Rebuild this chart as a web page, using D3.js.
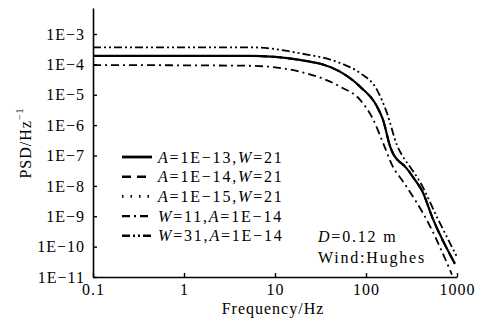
<!DOCTYPE html>
<html><head><meta charset="utf-8">
<script src="https://cdn.jsdelivr.net/npm/d3@7"></script>
<style>
html,body{margin:0;padding:0;background:#fff;}
svg text{font-family:"Times New Roman",Times,"Liberation Serif","DejaVu Serif",serif;fill:#000;}
</style></head>
<body><svg id="c" width="482" height="325"></svg>
<script>
// ---- data ----
const xTicks = [0.1, 1, 10, 100, 1000];
const xTickLabels = ["0.1", "1", "10", "100", "1000"];
const yTicks = [1e-3, 1e-4, 1e-5, 1e-6, 1e-7, 1e-8, 1e-9, 1e-10, 1e-11];
const yTickLabels = ["1E\u22123", "1E\u22124", "1E\u22125", "1E\u22126", "1E\u22127", "1E\u22128", "1E\u22129", "1E\u221210", "1E\u221211"];

// A=1E-13, W=21 (solid) — A=1E-14 and A=1E-15 coincide with it
const freqA = [0.1, 1, 5.3, 18.8, 51.8, 86, 132, 154, 184, 200, 219, 269, 345, 412, 545, 950];
const psdA13 = [1.9e-4, 1.9e-4, 1.9e-4, 1.4e-4, 5.75e-5, 1.85e-5, 4.1e-6, 1.48e-6, 2.0e-7, 1.1e-7, 7.5e-8, 4.3e-8, 1.58e-8, 7.0e-9, 8.0e-10, 2.7e-11];
const psdA14 = [1.9e-4, 1.9e-4, 1.9e-4, 1.4e-4, 5.75e-5, 1.85e-5, 4.1e-6, 1.48e-6, 2.0e-7, 1.1e-7, 7.5e-8, 4.3e-8, 1.58e-8, 7.0e-9, 8.0e-10, 2.7e-11];
const psdA15 = [1.9e-4, 1.9e-4, 1.9e-4, 1.4e-4, 5.75e-5, 1.85e-5, 4.1e-6, 1.48e-6, 2.0e-7, 1.1e-7, 7.5e-8, 4.3e-8, 1.58e-8, 7.0e-9, 8.0e-10, 2.7e-11];
// W=11, A=1E-14
const freqW11 = [0.1, 1, 5.3, 18.8, 51.8, 86, 119, 154, 198, 255, 500, 880];
const psdW11 = [9.5e-5, 9.3e-5, 9.0e-5, 5.75e-5, 1.85e-5, 6.8e-6, 1.6e-6, 2.6e-7, 4.2e-8, 1.4e-8, 5.0e-10, 1.2e-11];
// W=31, A=1E-14
const freqW31 = [0.1, 1, 5.3, 18.8, 51.8, 86, 132, 170, 219, 250, 290, 392, 618, 1000];
const psdW31 = [3.65e-4, 3.65e-4, 3.65e-4, 2.32e-4, 1.11e-4, 5.2e-5, 1.45e-5, 2.5e-6, 2.2e-7, 1.0e-7, 5.2e-8, 1.35e-8, 8.0e-10, 4.6e-11];

const seriesNames = ["A=1E\u221213,W=21", "A=1E\u221214,W=21", "A=1E\u221215,W=21", "W=11,A=1E\u221214", "W=31,A=1E\u221214"];

// ---- layout ----
const svg = d3.select("#c");
const L = 93, R = 457, B = 277, T = 8;
const x = d3.scaleLog().domain([0.1, 1000]).range([L, R]);
const y = d3.scaleLog().domain([1e-11, Math.pow(10, -2.144)]).range([B, T]);

const styles = [
  {dash: null, w: 2.2},
  {dash: "9,6", w: 2},
  {dash: "1.5,7", w: 2},
  {dash: "8,4,2,4", w: 1.8},
  {dash: "8,3,2,3,2,3", w: 1.8}
];
const series = [
  {f: freqA, v: psdA14, s: styles[1]},
  {f: freqA, v: psdA15, s: styles[2]},
  {f: freqW11, v: psdW11, s: styles[3]},
  {f: freqW31, v: psdW31, s: styles[4]},
  {f: freqA, v: psdA13, s: styles[0]}
];

const line = d3.line().x(d => x(d[0])).y(d => y(d[1])).curve(d3.curveMonotoneX);
series.forEach(sr => {
  const pts = sr.f.map((f, i) => [f, sr.v[i]]);
  svg.append("path").attr("d", line(pts)).attr("fill", "none")
    .attr("stroke", "#000").attr("stroke-width", sr.s.w)
    .attr("stroke-dasharray", sr.s.dash);
});

// axes
const fs = 16, ls = 1.0, lsLeg = 1.8;
const xAxis = d3.axisBottom(x).tickValues(xTicks).tickFormat((d, i) => xTickLabels[i]).tickSizeInner(-4).tickSizeOuter(0).tickPadding(7);
const gx = svg.append("g").attr("transform", `translate(0,${B})`).call(xAxis);
const yAxis = d3.axisLeft(y).tickValues(yTicks).tickFormat((d, i) => yTickLabels[i]).tickSizeInner(-4).tickSizeOuter(0).tickPadding(8);
const gy = svg.append("g").attr("transform", `translate(${L},0)`).call(yAxis);
[gx, gy].forEach(g => {
  g.attr("font-family", null);
  g.select(".domain").attr("stroke", "#000").attr("stroke-width", 1.6);
  g.selectAll(".tick line").attr("stroke", "#000").attr("stroke-width", 1.4);
  g.selectAll(".tick text").attr("font-size", fs).attr("letter-spacing", ls).attr("fill", "#000");
});

// axis titles
svg.append("text").attr("x", (L + R) / 2 - 2).attr("y", 314).attr("text-anchor", "middle")
  .attr("font-size", fs).attr("letter-spacing", ls).text("Frequency/Hz");
const yl = svg.append("text").attr("transform", "translate(31,143) rotate(-90)").attr("text-anchor", "middle")
  .attr("font-size", fs).attr("letter-spacing", ls);
yl.append("tspan").text("PSD/Hz");
yl.append("tspan").attr("font-size", 10).attr("dy", -8).text("\u22121");

// legend
[0, 1, 2, 3, 4].forEach((k, i) => {
  const yy = 157 + i * 19.7;
  svg.append("line").attr("x1", 122).attr("x2", 152).attr("y1", yy).attr("y2", yy)
    .attr("stroke", "#000").attr("stroke-width", styles[k].w + 0.6).attr("stroke-dasharray", styles[k].dash);
  const t = svg.append("text").attr("x", 158).attr("y", yy + 5.5).attr("font-size", fs).attr("letter-spacing", lsLeg);
  seriesNames[k].split(/(A|W)/).filter(p => p.length).forEach(p => {
    const ts = t.append("tspan").text(p);
    if (p === "A" || p === "W") ts.attr("font-style", "italic");
  });
});

// annotation
const a1 = svg.append("text").attr("x", 318).attr("y", 241.5).attr("font-size", fs).attr("letter-spacing", lsLeg);
a1.append("tspan").attr("font-style", "italic").text("D");
a1.append("tspan").text("=0.12 m");
svg.append("text").attr("x", 318).attr("y", 262.5).attr("font-size", fs).attr("letter-spacing", lsLeg).text("Wind:Hughes");
</script></body></html>
